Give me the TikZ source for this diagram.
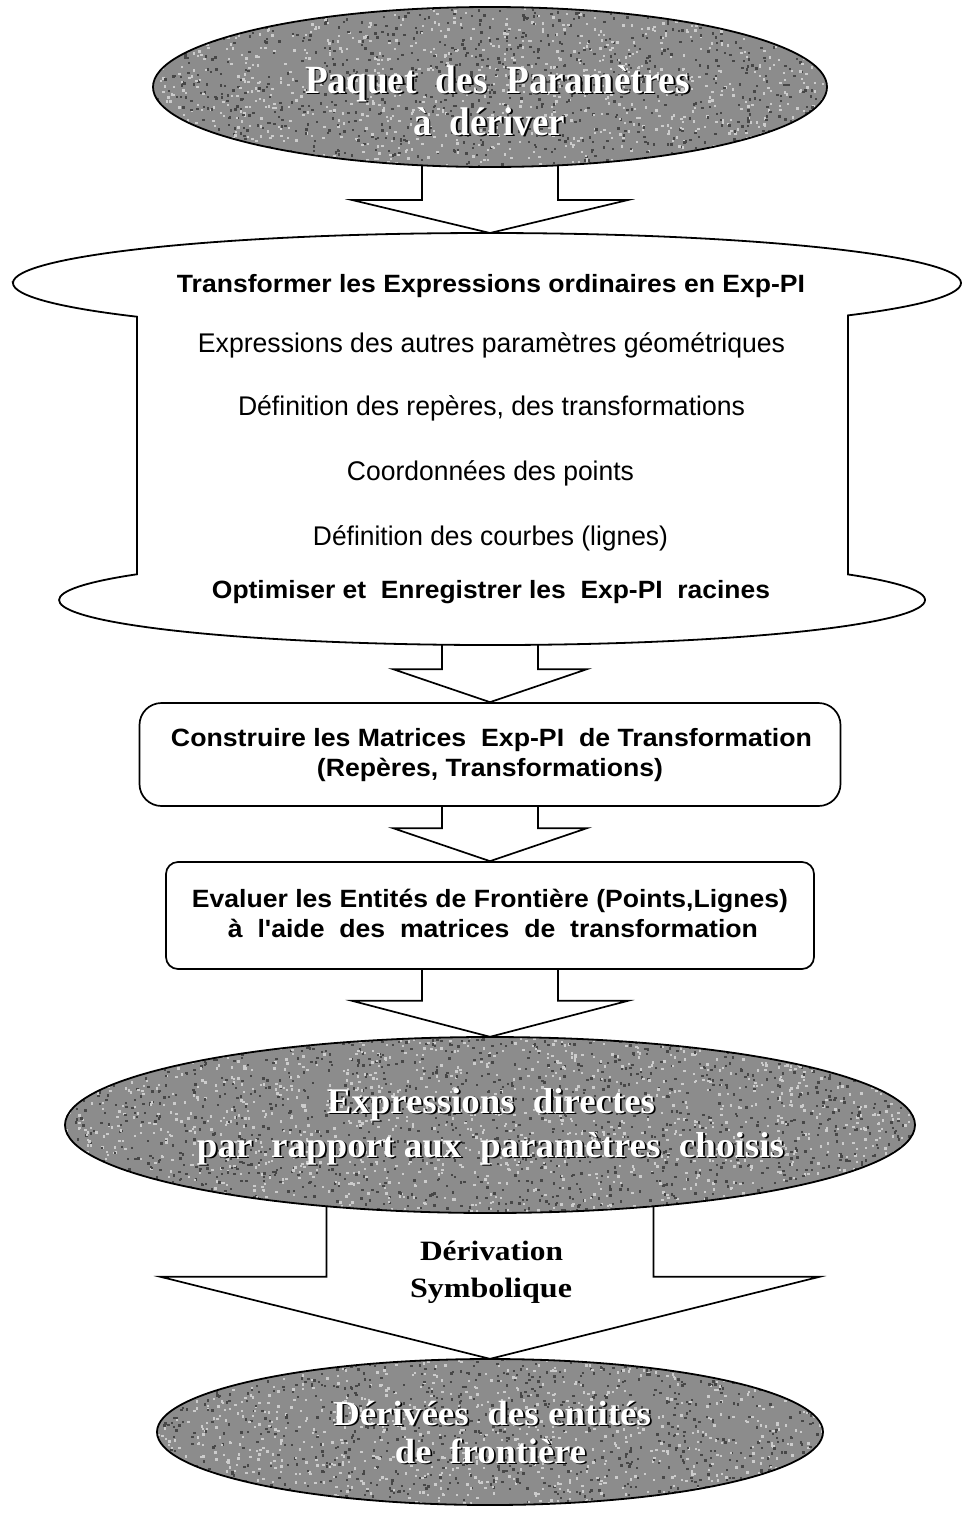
\documentclass[tikz,border=0pt]{standalone}
\usepackage{fontspec}
\setmainfont{Liberation Serif}
\setsansfont{Liberation Sans}
\usepackage{graphicx}
\usetikzlibrary{shapes.geometric,calc}
\pgfdeclarelayer{bg}
\pgfsetlayers{bg,main}
\newcommand{\fitw}[3]{\resizebox{#1pt}{\height}{\fontsize{#2pt}{#2pt}\selectfont #3}}
\newcommand{\embtext}[6]{%
  \node[anchor=base, inner sep=0pt, text=black] (#1s) at ({#2+1.8},{-#3-1.8}) {\fitw{#4}{#5}{\bfseries #6}};
  \node[anchor=base, inner sep=0pt, text=white] (#1) at (#2,-#3) {\fitw{#4}{#5}{\bfseries #6}};}
\newcommand{\speckle}[5]{%
  \begin{scope}
    \clip (#1,#2) ellipse [x radius=#3, y radius=#4];
    \foreach \k in {1,...,#5}{%
      \fill[black!72] ({#1+#3*rand},{#2+#4*rand}) rectangle ++(2.4,2.4);
      \fill[black!20] ({#1+#3*rand},{#2+#4*rand}) rectangle ++(2.4,2.4);
    }
  \end{scope}}
\newcommand{\barrow}[5]{%
  \draw[blockarrow] ($(#1)+(-#3,0)$) -- ($(#2)+(-#3,#5)$) -- ($(#2)+(-#4,#5)$) -- (#2)
    -- ($(#2)+(#4,#5)$) -- ($(#2)+(#3,#5)$) -- ($(#1)+(#3,0)$);}
\tikzset{
  outl/.style={draw=black, line width=1.8pt},
  grayell/.style={ellipse, fill=black!45, inner sep=0pt},
  stepbox/.style={rectangle, draw=black, line width=1.7pt, fill=white, inner sep=0pt},
  blockarrow/.style={draw=black, fill=white, line width=1.7pt, line join=miter},
  sanstxt/.style={anchor=base, inner sep=0pt, font=\sffamily},
  dertxt/.style={anchor=base, inner sep=0pt, text=black},
}
\begin{document}
\begin{tikzpicture}[x=1pt,y=1pt]
\pgfmathsetseed{42}
\begin{pgfonlayer}{bg}
  \fill[white] (0,0) rectangle (962,-1513);
\end{pgfonlayer}
\useasboundingbox (0,0) rectangle (962,-1513);

% ---------- top ellipse
\node[grayell, minimum width=674pt, minimum height=160pt] (p1) at (490,-87) {};
\speckle{490}{-87}{337}{80}{1000}
\draw[outl] (p1.center) ellipse [x radius=337, y radius=80];
\embtext{t1a}{497.5}{93}{385}{40}{Paquet~~des~~Paramètres}
\embtext{t1b}{489}{135}{152}{40}{à~~dériver}

% ---------- scroll shape
\coordinate (sctop) at (490,-233);
\coordinate (scbot) at (490,-645);
\draw[outl, fill=white] (13,-283)
  arc[start angle=180, end angle=0, x radius=474, y radius=50]
  arc[start angle=0, end angle={-acos(361/474)}, x radius=474, y radius=50]
  -- (848,-574.4)
  arc[start angle={acos(356/433)}, end angle={-360+acos(-355/433)}, x radius=433, y radius=45]
  -- (137,-316.7)
  arc[start angle={-acos(-350/474)}, end angle=-180, x radius=474, y radius=50]
  -- cycle;
\node[sanstxt] (s1) at (491,-292) {\fitw{628}{25}{\bfseries Transformer les Expressions ordinaires en Exp-PI}};
\node[sanstxt] (s2) at (491.5,-352) {\fitw{587}{27}{Expressions des autres paramètres géométriques}};
\node[sanstxt] (s3) at (491.5,-415) {\fitw{507}{27}{Définition des repères, des transformations}};
\node[sanstxt] (s4) at (490.5,-480) {\fitw{287}{27}{Coordonnées des points}};
\node[sanstxt] (s5) at (490.5,-545) {\fitw{355}{27}{Définition des courbes (lignes)}};
\node[sanstxt] (s6) at (491,-598) {\fitw{558}{25}{\bfseries Optimiser et~~Enregistrer les~~Exp-PI~~racines}};

% ---------- box 1
\node[stepbox, minimum width=701pt, minimum height=103pt, rounded corners=22pt] (b1) at (490,-754.5) {};
\node[sanstxt] (b1a) at (491.5,-746) {\fitw{641}{25}{\bfseries Construire les Matrices~~Exp-PI~~de Transformation}};
\node[sanstxt] (b1b) at (490,-776) {\fitw{346}{25}{\bfseries (Repères, Transformations)}};

% ---------- box 2
\node[stepbox, minimum width=648pt, minimum height=107pt, rounded corners=12pt] (b2) at (490,-915.5) {};
\node[sanstxt] (b2a) at (490,-907) {\fitw{596}{25}{\bfseries Evaluer les Entités de Frontière (Points,Lignes)}};
\node[sanstxt] (b2b) at (493,-937) {\fitw{530}{25}{\bfseries à~~l\textquotesingle aide~~des~~matrices~~de~~transformation}};

% ---------- ellipse 3
\node[grayell, minimum width=850pt, minimum height=176pt] (p3) at (490,-1125) {};
\speckle{490}{-1125}{425}{88}{1400}
\draw[outl] (p3.center) ellipse [x radius=425, y radius=88];
\embtext{t3a}{491}{1113}{328}{36}{Expressions~~directes}
\embtext{t3b}{490.5}{1157}{587}{36}{par~~rapport aux~~paramètres~~choisis}

% ---------- ellipse 4
\node[grayell, minimum width=666pt, minimum height=146pt] (p4) at (490,-1432) {};
\speckle{490}{-1432}{333}{73}{900}
\draw[outl] (p4.center) ellipse [x radius=333, y radius=73];
\embtext{t4a}{492}{1425}{318}{35}{Dérivées~~des entités}
\embtext{t4b}{490.5}{1463}{191}{35}{de~~frontière}

% ---------- labels of last arrow
\node[dertxt] (d1) at (491.5,-1260) {\fitw{143}{28}{\bfseries Dérivation}};
\node[dertxt] (d2) at (491,-1297) {\fitw{162}{28}{\bfseries Symbolique}};

% ---------- block arrows
\coordinate (a1s) at ($(p1.south)+(0,15)$);
\coordinate (a5s) at ($(p3.south)+(0,20)$);
\begin{pgfonlayer}{bg}
  \barrow{a1s}{sctop}{68}{138}{33}
  \barrow{scbot}{b1.north}{48}{97}{33}
  \barrow{b1.south}{b2.north}{48}{97}{33}
  \barrow{b2.south}{p3.north}{68}{138}{36}
  \barrow{a5s}{p4.north}{163.5}{329.5}{82}
\end{pgfonlayer}
\end{tikzpicture}
\end{document}
